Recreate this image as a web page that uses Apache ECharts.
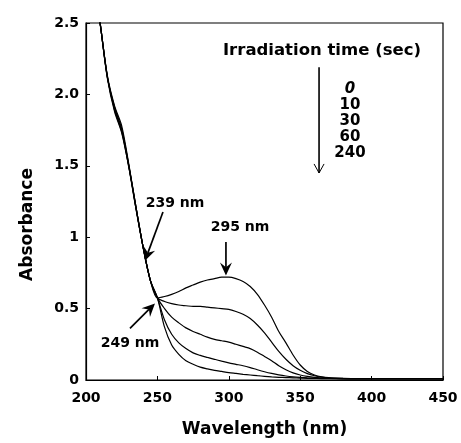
<!DOCTYPE html>
<html>
<head>
<meta charset="utf-8">
<script src="https://cdn.jsdelivr.net/npm/echarts@6/dist/echarts.min.js"></script>
<style>html,body{margin:0;padding:0;background:#fff}#c{width:461px;height:443px}</style>
</head>
<body>
<div id="c"></div>
<script>
// Wavelength (nm) sample points
const wavelengths = [208,210,215,220,225,230,235,240,245,250,255,260,265,270,275,280,285,290,295,300,305,310,315,320,325,330,335,340,345,350,355,360,365,370,380,390,400,410,420,430,440,450];
// Irradiation times (sec)
const timeLabels = ['0','10','30','60','240'];
// Absorbance per irradiation time
const abs0   = [2.62,2.49,2.13,1.92,1.78,1.51,1.21,0.93,0.70,0.575,0.585,0.60,0.62,0.645,0.665,0.685,0.70,0.71,0.72,0.72,0.71,0.69,0.655,0.60,0.525,0.44,0.34,0.26,0.175,0.105,0.06,0.035,0.022,0.016,0.012,0.01,0.01,0.01,0.01,0.01,0.01,0.01];
const abs10  = [2.62,2.49,2.12,1.91,1.76,1.50,1.21,0.93,0.70,0.575,0.55,0.535,0.525,0.52,0.515,0.515,0.51,0.505,0.50,0.495,0.48,0.46,0.43,0.385,0.33,0.265,0.20,0.145,0.10,0.068,0.045,0.03,0.02,0.014,0.011,0.01,0.01,0.01,0.01,0.01,0.01,0.01];
const abs30  = [2.62,2.49,2.12,1.90,1.75,1.50,1.21,0.93,0.70,0.575,0.50,0.44,0.40,0.365,0.34,0.32,0.30,0.285,0.275,0.265,0.25,0.235,0.22,0.195,0.165,0.135,0.10,0.072,0.05,0.035,0.025,0.018,0.014,0.012,0.01,0.01,0.01,0.01,0.01,0.01,0.01,0.01];
const abs60  = [2.62,2.49,2.12,1.89,1.74,1.49,1.20,0.93,0.70,0.575,0.42,0.32,0.26,0.22,0.19,0.172,0.158,0.145,0.132,0.12,0.11,0.10,0.087,0.072,0.058,0.046,0.036,0.028,0.022,0.018,0.015,0.013,0.012,0.011,0.01,0.01,0.01,0.01,0.01,0.01,0.01,0.01];
const abs240 = [2.62,2.49,2.11,1.88,1.73,1.49,1.20,0.93,0.70,0.575,0.37,0.245,0.18,0.135,0.11,0.09,0.078,0.068,0.06,0.052,0.046,0.04,0.035,0.03,0.026,0.022,0.019,0.017,0.015,0.013,0.012,0.011,0.01,0.01,0.008,0.008,0.008,0.008,0.008,0.008,0.008,0.008];
// Tick labels
const xTicks = ['200','250','300','350','400','450'];
const yTicks = ['0','0.5','1','1.5','2.0','2.5'];
// Annotation arrows (data coordinates: [wavelength, absorbance] start -> tip)
const arrowStarts = [[253.9,1.176],[298,0.967],[230.8,0.362],[363.2,2.19]];
const arrowTips   = [[241.3,0.835],[298,0.731],[248.3,0.536],[363.2,1.45]];
const annotationTexts = ['239 nm','295 nm','249 nm'];

const seriesValues = [abs0, abs10, abs30, abs60, abs240];
const FONT = 'DejaVu Sans';

const chart = echarts.init(document.getElementById('c'), null, {renderer:'canvas'});
const series = seriesValues.map((vals, i) => ({
  name: timeLabels[i] + ' sec',
  type: 'line',
  data: wavelengths.map((w, j) => [w, vals[j]]),
  showSymbol: false,
  smooth: 0.3,
  clip: true,
  lineStyle: {color: '#000', width: 1.2},
  silent: true,
  animation: false
}));

chart.setOption({
  backgroundColor: '#fff',
  animation: false,
  grid: {left: 86, right: 18, top: 23, bottom: 61, show: true, borderColor: '#000', borderWidth: 1.2, containLabel: false},
  xAxis: {
    type: 'value', min: 200, max: 450, interval: 50,
    name: 'Wavelength (nm)', nameLocation: 'middle', nameGap: 41,
    nameTextStyle: {fontFamily: FONT, fontWeight: 'bold', fontSize: 17, color: '#000'},
    axisLine: {lineStyle: {color: '#000', width: 1.2}},
    axisTick: {inside: true, length: 4, lineStyle: {color: '#000'}},
    splitLine: {show: false},
    axisLabel: {margin: 11, fontFamily: FONT, fontWeight: 'bold', fontSize: 14, color: '#000',
      formatter: v => xTicks[Math.round((v - 200) / 50)]}
  },
  yAxis: {
    type: 'value', min: 0, max: 2.5, interval: 0.5,
    name: 'Absorbance', nameLocation: 'middle', nameGap: 50, nameRotate: 90,
    nameTextStyle: {fontFamily: FONT, fontWeight: 'bold', fontSize: 17, color: '#000', padding: [0, 46, 0, 0]},
    axisLine: {show: true, lineStyle: {color: '#000', width: 1.2}},
    axisTick: {show: true, inside: true, length: 4, lineStyle: {color: '#000'}},
    splitLine: {show: false},
    axisLabel: {margin: 7, fontFamily: FONT, fontWeight: 'bold', fontSize: 14, color: '#000',
      formatter: v => yTicks[Math.round(v / 0.5)]}
  },
  series: series
});

// Texts and arrows (arrows positioned through the chart's own scales)
const graphics = [
  {type: 'text', x: 322, y: 51, style: {text: 'Irradiation time (sec)', font: 'bold 16.5px "DejaVu Sans"', fill: '#000', textAlign: 'center', textVerticalAlign: 'middle'}},
  ...timeLabels.map((t, i) => ({type: 'text', x: 350, y: 89 + i * 16, style: {text: t, font: (i === 0 ? 'italic ' : '') + 'bold 15px "DejaVu Sans"', fill: '#000', textAlign: 'center', textVerticalAlign: 'middle'}})),
  {type: 'text', x: 175, y: 203, style: {text: annotationTexts[0], font: 'bold 14px "DejaVu Sans"', fill: '#000', textAlign: 'center', textVerticalAlign: 'middle'}},
  {type: 'text', x: 240, y: 227, style: {text: annotationTexts[1], font: 'bold 14px "DejaVu Sans"', fill: '#000', textAlign: 'center', textVerticalAlign: 'middle'}},
  {type: 'text', x: 130, y: 343, style: {text: annotationTexts[2], font: 'bold 14px "DejaVu Sans"', fill: '#000', textAlign: 'center', textVerticalAlign: 'middle'}}
];
arrowStarts.forEach((s, i) => {
  const p0 = chart.convertToPixel({gridIndex: 0}, s);
  const p1 = chart.convertToPixel({gridIndex: 0}, arrowTips[i]);
  const dx = p1[0] - p0[0], dy = p1[1] - p0[1];
  const L = Math.hypot(dx, dy), ux = dx / L, uy = dy / L, nx = -uy, ny = ux;
  const open = i === 3;
  const hl = open ? 9 : 13, hw = open ? 5 : 6;
  const base = [p1[0] - ux * hl, p1[1] - uy * hl];
  const notch = [p1[0] - ux * hl * 0.65, p1[1] - uy * hl * 0.65];
  const left = [base[0] + nx * hw, base[1] + ny * hw];
  const right = [base[0] - nx * hw, base[1] - ny * hw];
  if (open) {
    graphics.push({type: 'line', silent: true, shape: {x1: p0[0], y1: p0[1], x2: p1[0], y2: p1[1]}, style: {stroke: '#000', lineWidth: 1.6}});
    graphics.push({type: 'polyline', silent: true, shape: {points: [left, p1, right]}, style: {stroke: '#000', lineWidth: 1, fill: null}});
  } else {
    graphics.push({type: 'line', silent: true, shape: {x1: p0[0], y1: p0[1], x2: notch[0], y2: notch[1]}, style: {stroke: '#000', lineWidth: 1.7}});
    graphics.push({type: 'polygon', silent: true, shape: {points: [p1, left, notch, right]}, style: {fill: '#000'}});
  }
});
chart.setOption({graphic: graphics});
</script>
</body>
</html>
